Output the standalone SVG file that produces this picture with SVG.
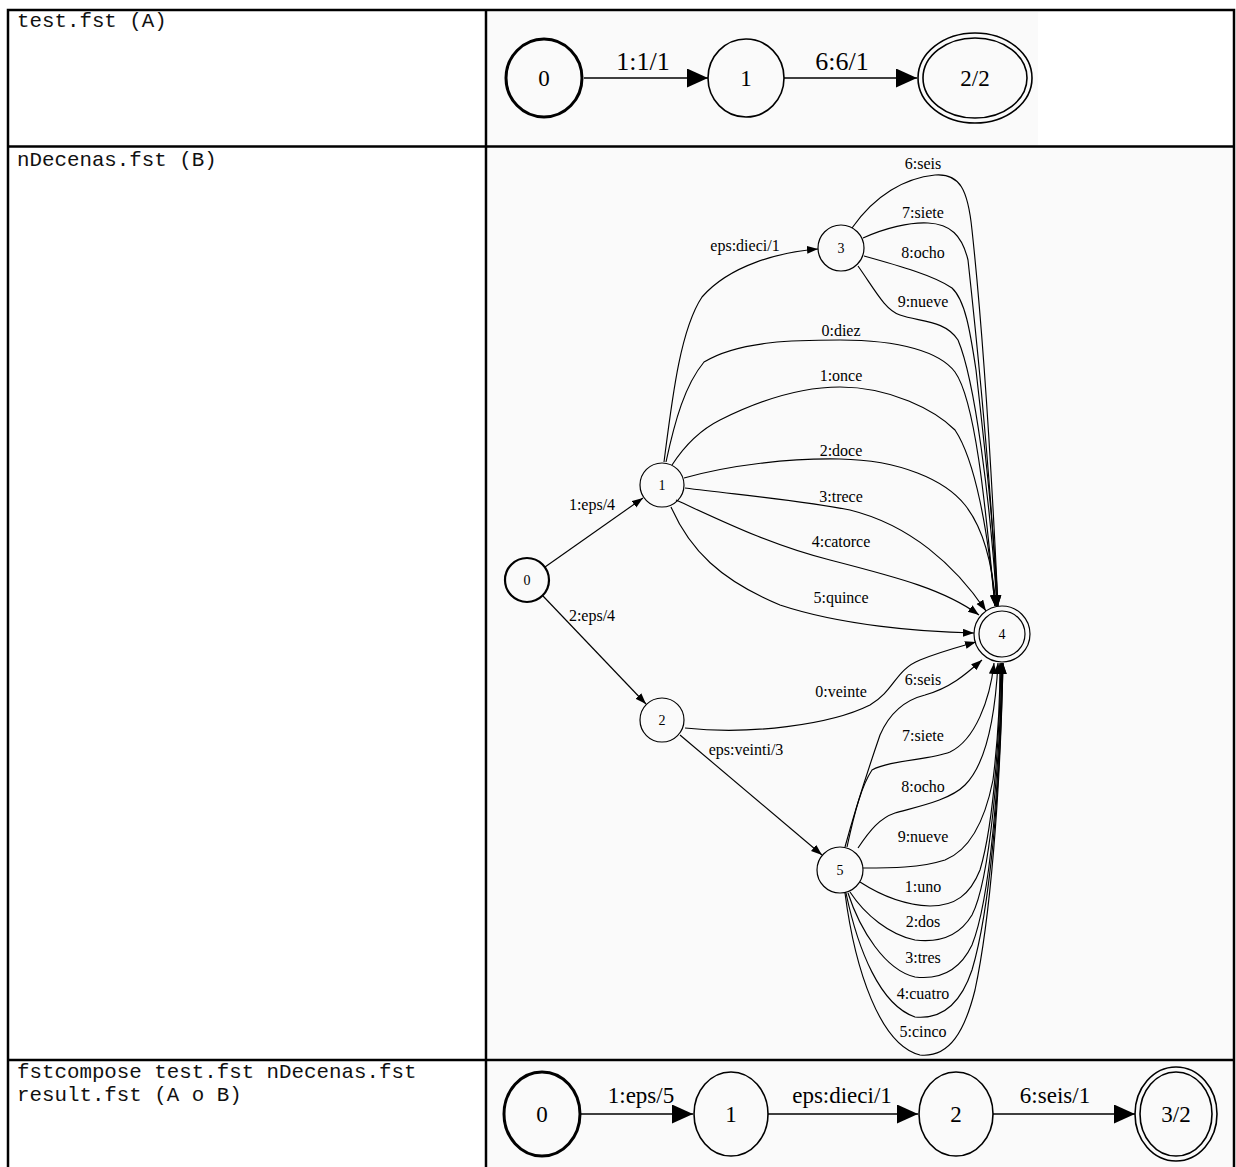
<svg xmlns="http://www.w3.org/2000/svg" width="1236" height="1167" viewBox="0 0 1236 1167">
<style>
.cell{font-family:"Liberation Mono","Courier New",monospace;font-size:20.8px;fill:#111}
.bg{fill:#fafafa}
.n{fill:none;stroke:#000;stroke-width:1.2}
.nt{fill:none;stroke:#000;stroke-width:2.2}
.lbl{font-family:"Liberation Serif","Times New Roman",serif;fill:#000;text-anchor:middle}
.s{font-size:16px}
.b{font-size:26px}
.m{font-size:23px}
.e{fill:none;stroke:#000;stroke-width:1.15}
.eb{fill:none;stroke:#000;stroke-width:1.6}
.grid{stroke:#000;stroke-width:2.5;fill:none}
</style>
<defs>
<marker id="ah" markerUnits="userSpaceOnUse" markerWidth="12" markerHeight="9" refX="11" refY="4" orient="auto"><path d="M0,0 L11,4 L0,8 z" fill="#000"/></marker>
<marker id="ahb" markerUnits="userSpaceOnUse" markerWidth="22" markerHeight="20" refX="21" refY="9.5" orient="auto"><path d="M0,0 L21,9.5 L0,19 z" fill="#000"/></marker>
</defs>
<rect width="1236" height="1167" fill="#fff"/>
<rect class="bg" x="488" y="12" width="550" height="133"/>
<rect class="bg" x="488" y="148" width="745" height="911"/>
<rect class="bg" x="488" y="1062" width="745" height="105"/>
<g id="grid">
<path class="grid" d="M8,1167 V10 H1234 V1167 M486,10 V1167 M8,146.5 H1234 M8,1060 H1234"/>
</g>
<g id="labels">
<text class="cell" x="17" y="27">test.fst (A)</text>
<text class="cell" x="17" y="166">nDecenas.fst (B)</text>
<text class="cell" x="17" y="1078">fstcompose test.fst nDecenas.fst</text>
<text class="cell" x="17" y="1101">result.fst (A o B)</text>
</g>
<g id="edges">
<!-- top -->
<path class="eb" d="M584,78 H708" marker-end="url(#ahb)"/>
<path class="eb" d="M784,78 H917" marker-end="url(#ahb)"/>
<text class="lbl b" x="643" y="70">1:1/1</text>
<text class="lbl b" x="842" y="70">6:6/1</text>
<!-- middle -->
<path class="e" d="M545,567 L643,498" marker-end="url(#ah)"/>
<path class="e" d="M543,596 L646,704" marker-end="url(#ah)"/>
<path class="e" d="M680,735 L822,855" marker-end="url(#ah)"/>
<path class="e" d="M664,462 C672,400 680,330 702,297 C730,265 780,252 818,249" marker-end="url(#ah)"/>
<path class="e" d="M852,228 C875,195 905,178 935,175 C960,173 968,190 972,230 C985,350 993,500 998,606" marker-end="url(#ah)"/>
<path class="e" d="M863,238 C885,228 910,222 928,223 C950,224 962,235 968,260 C980,370 992,500 997,606" marker-end="url(#ah)"/>
<path class="e" d="M864,256 C900,266 935,276 952,288 C965,300 970,330 976,370 C985,450 994,530 998,606" marker-end="url(#ah)"/>
<path class="e" d="M858,266 C875,290 885,310 900,315 C920,322 945,320 958,340 C975,380 990,500 997,606" marker-end="url(#ah)"/>
<path class="e" d="M666,462 C675,420 685,385 704,362 C740,340 800,340 840,340 C900,340 940,352 955,372 C975,400 985,500 995,606" marker-end="url(#ah)"/>
<path class="e" d="M672,465 C685,445 700,430 720,420 C760,400 800,387 840,387 C890,387 935,410 955,430 C975,460 988,530 995,606" marker-end="url(#ah)"/>
<path class="e" d="M684,478 C730,465 790,458 840,459 C900,460 945,480 965,505 C985,530 993,570 996,606" marker-end="url(#ah)"/>
<path class="e" d="M685,488 C740,495 800,500 850,510 C910,525 955,565 986,611" marker-end="url(#ah)"/>
<path class="e" d="M676,500 C720,520 770,545 830,560 C900,578 945,590 979,615" marker-end="url(#ah)"/>
<path class="e" d="M671,507 C690,550 720,580 780,605 C840,625 920,632 974,633" marker-end="url(#ah)"/>
<path class="e" d="M685,728 C750,735 830,725 870,705 C895,690 895,670 920,660 C940,652 955,648 976,642" marker-end="url(#ah)"/>
<path class="e" d="M845,847 C855,810 868,770 880,735 C890,712 905,700 925,695 C950,688 965,675 982,660" marker-end="url(#ah)"/>
<path class="e" d="M847,847 C855,810 862,785 872,770 C890,760 930,760 950,752 C975,740 990,700 994,663" marker-end="url(#ah)"/>
<path class="e" d="M858,848 C870,830 880,818 895,813 C920,806 950,800 965,785 C985,765 995,720 998,663" marker-end="url(#ah)"/>
<path class="e" d="M863,868 C890,868 920,868 945,860 C970,850 985,820 993,780 C998,740 1000,700 1000,663" marker-end="url(#ah)"/>
<path class="e" d="M860,882 C880,895 905,905 930,906 C955,906 970,895 980,870 C995,820 1000,720 1001,663" marker-end="url(#ah)"/>
<path class="e" d="M850,892 C865,915 890,935 915,940 C940,943 960,935 972,915 C990,880 1000,760 1002,663" marker-end="url(#ah)"/>
<path class="e" d="M848,893 C860,930 885,970 915,977 C940,980 960,970 972,945 C990,900 1000,780 1002,663" marker-end="url(#ah)"/>
<path class="e" d="M846,893 C858,950 880,1005 915,1017 C945,1020 962,1000 972,970 C990,910 1000,790 1003,663" marker-end="url(#ah)"/>
<path class="e" d="M845,893 C855,970 880,1045 920,1055 C950,1058 965,1030 975,990 C990,920 1000,800 1003,663" marker-end="url(#ah)"/>
<text class="lbl s" x="592" y="510">1:eps/4</text>
<text class="lbl s" x="592" y="621">2:eps/4</text>
<text class="lbl s" x="745" y="251">eps:dieci/1</text>
<text class="lbl s" x="923" y="169">6:seis</text>
<text class="lbl s" x="923" y="218">7:siete</text>
<text class="lbl s" x="923" y="258">8:ocho</text>
<text class="lbl s" x="923" y="307">9:nueve</text>
<text class="lbl s" x="841" y="336">0:diez</text>
<text class="lbl s" x="841" y="381">1:once</text>
<text class="lbl s" x="841" y="456">2:doce</text>
<text class="lbl s" x="841" y="502">3:trece</text>
<text class="lbl s" x="841" y="547">4:catorce</text>
<text class="lbl s" x="841" y="603">5:quince</text>
<text class="lbl s" x="841" y="697">0:veinte</text>
<text class="lbl s" x="923" y="685">6:seis</text>
<text class="lbl s" x="746" y="755">eps:veinti/3</text>
<text class="lbl s" x="923" y="741">7:siete</text>
<text class="lbl s" x="923" y="792">8:ocho</text>
<text class="lbl s" x="923" y="842">9:nueve</text>
<text class="lbl s" x="923" y="892">1:uno</text>
<text class="lbl s" x="923" y="927">2:dos</text>
<text class="lbl s" x="923" y="963">3:tres</text>
<text class="lbl s" x="923" y="999">4:cuatro</text>
<text class="lbl s" x="923" y="1037">5:cinco</text>
<!-- bottom -->
<path class="eb" d="M580,1114 H693" marker-end="url(#ahb)"/>
<path class="eb" d="M768,1114 H918" marker-end="url(#ahb)"/>
<path class="eb" d="M993,1114 H1135" marker-end="url(#ahb)"/>
<text class="lbl m" x="641" y="1103">1:eps/5</text>
<text class="lbl m" x="842" y="1103">eps:dieci/1</text>
<text class="lbl m" x="1055" y="1103">6:seis/1</text>
</g>
<g id="top-0"><ellipse class="nt" cx="544" cy="78" rx="38" ry="39" style="stroke-width:3"/><text class="lbl m" x="544" y="86">0</text></g>
<g id="top-1"><ellipse class="eb" cx="746" cy="78" rx="38" ry="39"/><text class="lbl m" x="746" y="86">1</text></g>
<g id="top-2"><ellipse class="eb" cx="975" cy="78" rx="57" ry="45"/><ellipse class="eb" cx="975" cy="78" rx="52" ry="40"/><text class="lbl m" x="975" y="86">2/2</text></g>
<g id="m-0"><circle class="nt" cx="527" cy="580" r="22"/><text class="lbl" style="font-size:14px" x="527" y="585">0</text></g>
<g id="m-1"><circle class="n" cx="662" cy="485" r="22"/><text class="lbl" style="font-size:14px" x="662" y="490">1</text></g>
<g id="m-2"><circle class="n" cx="662" cy="720" r="22"/><text class="lbl" style="font-size:14px" x="662" y="725">2</text></g>
<g id="m-3"><circle class="n" cx="841" cy="248" r="23"/><text class="lbl" style="font-size:14px" x="841" y="253">3</text></g>
<g id="m-4"><circle class="n" cx="1002" cy="634" r="28"/><circle class="n" cx="1002" cy="634" r="23"/><text class="lbl" style="font-size:14px" x="1002" y="639">4</text></g>
<g id="m-5"><circle class="n" cx="840" cy="870" r="23"/><text class="lbl" style="font-size:14px" x="840" y="875">5</text></g>
<g id="b-0"><ellipse class="nt" cx="542" cy="1114" rx="38" ry="42" style="stroke-width:3"/><text class="lbl m" x="542" y="1122">0</text></g>
<g id="b-1"><ellipse class="eb" cx="731" cy="1114" rx="37" ry="42"/><text class="lbl m" x="731" y="1122">1</text></g>
<g id="b-2"><ellipse class="eb" cx="956" cy="1114" rx="37" ry="42"/><text class="lbl m" x="956" y="1122">2</text></g>
<g id="b-3"><ellipse class="eb" cx="1176" cy="1114" rx="41" ry="47"/><ellipse class="eb" cx="1176" cy="1114" rx="36" ry="42"/><text class="lbl m" x="1176" y="1122">3/2</text></g>
</svg>
